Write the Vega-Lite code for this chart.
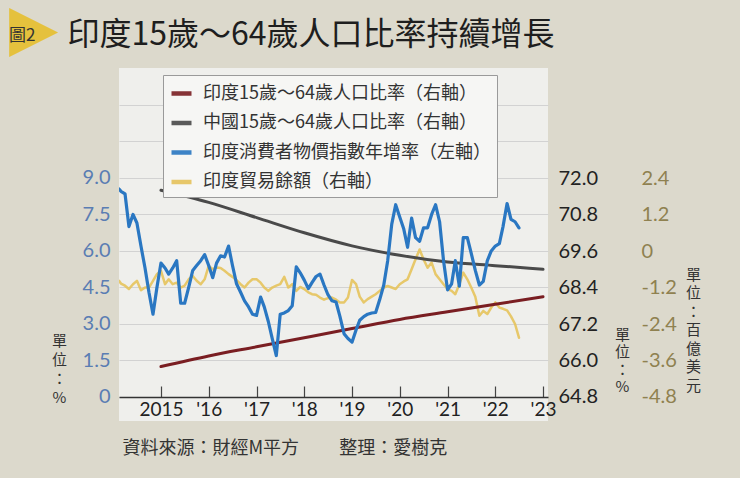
{
  "$schema": "https://vega.github.io/schema/vega-lite/v6.json",
  "width": 429,
  "height": 353,
  "autosize": {"type": "none"},
  "padding": {"left": 119, "top": 68, "right": 192, "bottom": 57},
  "background": "#dcd9cc",
  "title": {
    "text": "▶",
    "subtitle": "\u2002圖2",
    "anchor": "start",
    "frame": "group",
    "dx": -110,
    "offset": -44,
    "font": "DejaVu Sans",
    "fontSize": 64,
    "fontWeight": "normal",
    "color": "#e5c13d",
    "subtitleFont": "Noto Sans CJK TC",
    "subtitleFontSize": 17,
    "subtitleColor": "#333333",
    "subtitlePadding": -34
  },
  "datasets": {
    "cpi": [
      {"date": "2014-02-14", "value": 8.55}, {"date": "2014-03-01", "value": 8.45}, {"date": "2014-04-01", "value": 8.35},
      {"date": "2014-05-01", "value": 7.0}, {"date": "2014-06-01", "value": 7.5}, {"date": "2014-07-01", "value": 7.15},
      {"date": "2014-08-01", "value": 6.2}, {"date": "2014-09-01", "value": 5.3}, {"date": "2014-10-01", "value": 4.3},
      {"date": "2014-11-01", "value": 3.4}, {"date": "2014-12-01", "value": 4.5}, {"date": "2015-01-01", "value": 5.5},
      {"date": "2015-02-01", "value": 5.3}, {"date": "2015-03-01", "value": 5.05}, {"date": "2015-04-01", "value": 5.3},
      {"date": "2015-05-01", "value": 5.6}, {"date": "2015-06-01", "value": 3.85}, {"date": "2015-07-01", "value": 3.85},
      {"date": "2015-08-01", "value": 4.5}, {"date": "2015-09-01", "value": 5.2}, {"date": "2015-10-01", "value": 5.4},
      {"date": "2015-11-01", "value": 5.6}, {"date": "2015-12-01", "value": 5.85}, {"date": "2016-01-01", "value": 5.4},
      {"date": "2016-02-01", "value": 4.9}, {"date": "2016-03-01", "value": 5.5}, {"date": "2016-04-01", "value": 5.8},
      {"date": "2016-05-01", "value": 5.75}, {"date": "2016-06-01", "value": 6.2}, {"date": "2016-07-01", "value": 5.4},
      {"date": "2016-08-01", "value": 4.65}, {"date": "2016-09-01", "value": 4.3}, {"date": "2016-10-01", "value": 3.95},
      {"date": "2016-11-01", "value": 3.7}, {"date": "2016-12-01", "value": 3.4}, {"date": "2017-01-01", "value": 3.35},
      {"date": "2017-02-01", "value": 4.1}, {"date": "2017-03-01", "value": 3.7}, {"date": "2017-04-01", "value": 3.1},
      {"date": "2017-05-01", "value": 2.4}, {"date": "2017-06-01", "value": 1.7}, {"date": "2017-07-01", "value": 3.4},
      {"date": "2017-08-01", "value": 3.45}, {"date": "2017-09-01", "value": 3.55}, {"date": "2017-10-01", "value": 3.75},
      {"date": "2017-11-01", "value": 5.35}, {"date": "2017-12-01", "value": 5.1}, {"date": "2018-01-01", "value": 4.8},
      {"date": "2018-02-01", "value": 4.45}, {"date": "2018-03-01", "value": 4.7}, {"date": "2018-04-01", "value": 4.95},
      {"date": "2018-05-01", "value": 5.05}, {"date": "2018-06-01", "value": 4.6}, {"date": "2018-07-01", "value": 4.2},
      {"date": "2018-08-01", "value": 3.95}, {"date": "2018-09-01", "value": 3.9}, {"date": "2018-10-01", "value": 3.3},
      {"date": "2018-11-01", "value": 2.6}, {"date": "2018-12-01", "value": 2.4}, {"date": "2019-01-01", "value": 2.25},
      {"date": "2019-02-01", "value": 2.75}, {"date": "2019-03-01", "value": 3.15}, {"date": "2019-04-01", "value": 3.3},
      {"date": "2019-05-01", "value": 3.4}, {"date": "2019-06-01", "value": 3.45}, {"date": "2019-07-01", "value": 3.47},
      {"date": "2019-08-01", "value": 4.0}, {"date": "2019-09-01", "value": 4.6}, {"date": "2019-10-01", "value": 5.6},
      {"date": "2019-11-01", "value": 7.1}, {"date": "2019-12-01", "value": 7.9}, {"date": "2020-01-01", "value": 7.4},
      {"date": "2020-02-01", "value": 6.9}, {"date": "2020-03-01", "value": 6.15}, {"date": "2020-04-01", "value": 7.35},
      {"date": "2020-05-01", "value": 6.55}, {"date": "2020-06-01", "value": 6.4}, {"date": "2020-07-01", "value": 6.95},
      {"date": "2020-08-01", "value": 6.95}, {"date": "2020-09-01", "value": 7.5}, {"date": "2020-10-01", "value": 7.9},
      {"date": "2020-11-01", "value": 7.2}, {"date": "2020-12-01", "value": 5.6}, {"date": "2021-01-01", "value": 4.4},
      {"date": "2021-02-01", "value": 4.65}, {"date": "2021-03-01", "value": 5.6}, {"date": "2021-04-01", "value": 4.55},
      {"date": "2021-05-01", "value": 6.55}, {"date": "2021-06-01", "value": 6.55}, {"date": "2021-07-01", "value": 5.9},
      {"date": "2021-08-01", "value": 5.2}, {"date": "2021-09-01", "value": 4.6}, {"date": "2021-10-01", "value": 4.75},
      {"date": "2021-11-01", "value": 5.6}, {"date": "2021-12-01", "value": 6.0}, {"date": "2022-01-01", "value": 6.2},
      {"date": "2022-02-01", "value": 6.3}, {"date": "2022-03-01", "value": 7.0}, {"date": "2022-04-01", "value": 7.95},
      {"date": "2022-05-01", "value": 7.3}, {"date": "2022-06-01", "value": 7.2}, {"date": "2022-07-01", "value": 6.95}
    ],
    "trade": [
      {"date": "2014-02-14", "value": -0.98}, {"date": "2014-03-01", "value": -1.07}, {"date": "2014-04-01", "value": -1.14},
      {"date": "2014-05-01", "value": -1.25}, {"date": "2014-06-01", "value": -1.09}, {"date": "2014-07-01", "value": -0.98},
      {"date": "2014-08-01", "value": -1.29}, {"date": "2014-09-01", "value": -1.2}, {"date": "2014-10-01", "value": -1.2},
      {"date": "2014-11-01", "value": -0.98}, {"date": "2014-12-01", "value": -0.76}, {"date": "2015-01-01", "value": -0.65},
      {"date": "2015-02-01", "value": -1.09}, {"date": "2015-03-01", "value": -0.93}, {"date": "2015-04-01", "value": -1.09},
      {"date": "2015-05-01", "value": -1.04}, {"date": "2015-06-01", "value": -1.2}, {"date": "2015-07-01", "value": -1.14},
      {"date": "2015-08-01", "value": -0.93}, {"date": "2015-09-01", "value": -0.82}, {"date": "2015-10-01", "value": -0.98},
      {"date": "2015-11-01", "value": -1.09}, {"date": "2015-12-01", "value": -0.93}, {"date": "2016-01-01", "value": -0.49},
      {"date": "2016-02-01", "value": -0.6}, {"date": "2016-03-01", "value": -0.54}, {"date": "2016-04-01", "value": -0.56},
      {"date": "2016-05-01", "value": -0.65}, {"date": "2016-06-01", "value": -0.76}, {"date": "2016-07-01", "value": -0.85},
      {"date": "2016-08-01", "value": -0.96}, {"date": "2016-09-01", "value": -1.09}, {"date": "2016-10-01", "value": -1.2},
      {"date": "2016-11-01", "value": -1.04}, {"date": "2016-12-01", "value": -0.93}, {"date": "2017-01-01", "value": -0.93},
      {"date": "2017-02-01", "value": -1.04}, {"date": "2017-03-01", "value": -1.2}, {"date": "2017-04-01", "value": -1.31},
      {"date": "2017-05-01", "value": -1.2}, {"date": "2017-06-01", "value": -1.14}, {"date": "2017-07-01", "value": -1.09},
      {"date": "2017-08-01", "value": -0.85}, {"date": "2017-09-01", "value": -1.2}, {"date": "2017-10-01", "value": -1.09},
      {"date": "2017-11-01", "value": -1.31}, {"date": "2017-12-01", "value": -1.18}, {"date": "2018-01-01", "value": -1.25},
      {"date": "2018-02-01", "value": -1.36}, {"date": "2018-03-01", "value": -1.42}, {"date": "2018-04-01", "value": -1.44},
      {"date": "2018-05-01", "value": -1.53}, {"date": "2018-06-01", "value": -1.6}, {"date": "2018-07-01", "value": -1.55},
      {"date": "2018-08-01", "value": -1.53}, {"date": "2018-09-01", "value": -1.6}, {"date": "2018-10-01", "value": -1.69},
      {"date": "2018-11-01", "value": -1.69}, {"date": "2018-12-01", "value": -1.53}, {"date": "2019-01-01", "value": -0.95},
      {"date": "2019-02-01", "value": -1.09}, {"date": "2019-03-01", "value": -1.5}, {"date": "2019-04-01", "value": -1.69},
      {"date": "2019-05-01", "value": -1.58}, {"date": "2019-06-01", "value": -1.5}, {"date": "2019-07-01", "value": -1.42},
      {"date": "2019-08-01", "value": -1.31}, {"date": "2019-09-01", "value": -1.2}, {"date": "2019-10-01", "value": -1.15},
      {"date": "2019-11-01", "value": -1.2}, {"date": "2019-12-01", "value": -1.25}, {"date": "2020-01-01", "value": -1.09},
      {"date": "2020-02-01", "value": -1.0}, {"date": "2020-03-01", "value": -0.93}, {"date": "2020-04-01", "value": -0.6},
      {"date": "2020-05-01", "value": -0.27}, {"date": "2020-06-01", "value": 0.05}, {"date": "2020-07-01", "value": -0.27},
      {"date": "2020-08-01", "value": -0.55}, {"date": "2020-09-01", "value": -0.38}, {"date": "2020-10-01", "value": -0.76},
      {"date": "2020-11-01", "value": -0.93}, {"date": "2020-12-01", "value": -1.09}, {"date": "2021-01-01", "value": -1.25},
      {"date": "2021-02-01", "value": -1.31}, {"date": "2021-03-01", "value": -1.42}, {"date": "2021-04-01", "value": -1.09},
      {"date": "2021-05-01", "value": -0.71}, {"date": "2021-06-01", "value": -0.93}, {"date": "2021-07-01", "value": -1.2},
      {"date": "2021-08-01", "value": -1.5}, {"date": "2021-09-01", "value": -2.13}, {"date": "2021-10-01", "value": -1.97},
      {"date": "2021-11-01", "value": -2.07}, {"date": "2021-12-01", "value": -1.86}, {"date": "2022-01-01", "value": -1.69},
      {"date": "2022-02-01", "value": -1.86}, {"date": "2022-03-01", "value": -1.9}, {"date": "2022-04-01", "value": -1.95},
      {"date": "2022-05-01", "value": -2.15}, {"date": "2022-06-01", "value": -2.4}, {"date": "2022-07-01", "value": -2.85}
    ],
    "pop": [
      {"date": "2015-01-01", "value": 65.8, "series": "印度15歲～64歲人口比率（右軸）"},
      {"date": "2016-01-01", "value": 66.15, "series": "印度15歲～64歲人口比率（右軸）"},
      {"date": "2017-01-01", "value": 66.45, "series": "印度15歲～64歲人口比率（右軸）"},
      {"date": "2018-01-01", "value": 66.75, "series": "印度15歲～64歲人口比率（右軸）"},
      {"date": "2019-01-01", "value": 67.05, "series": "印度15歲～64歲人口比率（右軸）"},
      {"date": "2020-01-01", "value": 67.35, "series": "印度15歲～64歲人口比率（右軸）"},
      {"date": "2021-01-01", "value": 67.6, "series": "印度15歲～64歲人口比率（右軸）"},
      {"date": "2022-01-01", "value": 67.85, "series": "印度15歲～64歲人口比率（右軸）"},
      {"date": "2023-01-01", "value": 68.1, "series": "印度15歲～64歲人口比率（右軸）"},
      {"date": "2015-01-01", "value": 71.6, "series": "中國15歲～64歲人口比率（右軸）"},
      {"date": "2016-01-01", "value": 71.2, "series": "中國15歲～64歲人口比率（右軸）"},
      {"date": "2017-01-01", "value": 70.7, "series": "中國15歲～64歲人口比率（右軸）"},
      {"date": "2018-01-01", "value": 70.2, "series": "中國15歲～64歲人口比率（右軸）"},
      {"date": "2019-01-01", "value": 69.77, "series": "中國15歲～64歲人口比率（右軸）"},
      {"date": "2020-01-01", "value": 69.46, "series": "中國15歲～64歲人口比率（右軸）"},
      {"date": "2021-01-01", "value": 69.24, "series": "中國15歲～64歲人口比率（右軸）"},
      {"date": "2022-01-01", "value": 69.12, "series": "中國15歲～64歲人口比率（右軸）"},
      {"date": "2023-01-01", "value": 69.0, "series": "中國15歲～64歲人口比率（右軸）"}
    ]
  },
  "layer": [
    {
      "data": {"name": "trade"},
      "mark": {"type": "line", "strokeWidth": 2.5, "opacity": 0.9, "clip": true},
      "encoding": {
        "x": {
          "field": "date", "type": "temporal",
          "scale": {"domain": [{"year": 2014, "month": 2, "date": 14}, {"year": 2023, "month": 2, "date": 8}]},
          "axis": {
            "orient": "top", "labels": false, "ticks": false, "domain": false, "grid": false,
            "title": "印度15歲～64歲人口比率持續增長",
            "titleX": -52, "titleY": -34, "titleAlign": "left", "titleBaseline": "middle", "titleAngle": 0,
            "titleFont": "Noto Sans CJK TC", "titleFontSize": 32, "titleFontWeight": "normal", "titleColor": "#1e1e1e"
          }
        },
        "y": {
          "field": "value", "type": "quantitative",
          "scale": {"domain": [-5.59, 6.02], "nice": false, "zero": false},
          "axis": {
            "orient": "right", "offset": 85, "values": [-4.8, -3.6, -2.4, -1.2, 0, 1.2, 2.4],
            "labelExpr": "datum.value == 0 ? '0' : (datum.value < 0 ? '-' : '') + format(abs(datum.value), '.1f')",
            "grid": false, "domain": false, "ticks": false, "labelPadding": 8, "labelAlign": "left",
            "labelFont": "Lato", "labelFontSize": 20, "labelColor": "#8f8150",
            "title": ["單", "位", "：", "百", "億", "美", "元"],
            "titleAngle": 0, "titleX": 60, "titleY": 199, "titleAlign": "center", "titleBaseline": "top",
            "titleFont": "Noto Sans CJK TC", "titleFontSize": 15, "titleFontWeight": "normal", "titleLineHeight": 18.5, "titleColor": "#333333"
          }
        },
        "color": {
          "datum": "印度貿易餘額（右軸）", "type": "nominal",
          "scale": {
            "domain": ["印度15歲～64歲人口比率（右軸）", "中國15歲～64歲人口比率（右軸）", "印度消費者物價指數年增率（左軸）", "印度貿易餘額（右軸）"],
            "range": ["#7a1e22", "#4a4a4a", "#2a77c2", "#e6c35c"]
          }
        }
      }
    },
    {
      "data": {"name": "pop"},
      "mark": {"type": "line", "strokeWidth": 3, "interpolate": "monotone"},
      "encoding": {
        "x": {
          "field": "date", "type": "temporal",
          "scale": {"domain": [{"year": 2014, "month": 2, "date": 14}, {"year": 2023, "month": 2, "date": 8}]},
          "axis": null
        },
        "y": {
          "field": "value", "type": "quantitative",
          "scale": {"domain": [64.01, 75.62], "nice": false, "zero": false},
          "axis": {
            "orient": "right", "values": [64.8, 66.0, 67.2, 68.4, 69.6, 70.8, 72.0], "format": ".1f",
            "grid": false, "domain": false, "ticks": false, "labelPadding": 10, "labelAlign": "left",
            "labelFont": "Lato", "labelFontSize": 20, "labelColor": "#222222",
            "title": ["單", "位", "：", "%"],
            "titleAngle": 0, "titleX": 74, "titleY": 259, "titleAlign": "center", "titleBaseline": "top",
            "titleFont": "Noto Sans CJK TC", "titleFontSize": 15, "titleFontWeight": "normal", "titleLineHeight": 17.5, "titleColor": "#333333"
          }
        },
        "color": {
          "field": "series", "type": "nominal",
          "scale": {
            "domain": ["印度15歲～64歲人口比率（右軸）", "中國15歲～64歲人口比率（右軸）", "印度消費者物價指數年增率（左軸）", "印度貿易餘額（右軸）"],
            "range": ["#7a1e22", "#4a4a4a", "#2a77c2", "#e6c35c"]
          },
          "legend": {
            "orient": "none", "legendX": 44, "legendY": 7, "title": null,
            "symbolType": "stroke", "symbolStrokeWidth": 4.5, "symbolSize": 400,
            "labelFont": "Noto Sans CJK TC", "labelFontSize": 18, "labelColor": "#333333", "labelLimit": 0, "labelOffset": 9,
            "rowPadding": 7.5, "padding": 6, "strokeColor": "#9a9a9a", "fillColor": "#f6f6f4"
          }
        }
      }
    },
    {
      "data": {"name": "cpi"},
      "mark": {"type": "line", "strokeWidth": 3.2, "clip": true},
      "encoding": {
        "x": {
          "field": "date", "type": "temporal",
          "scale": {"domain": [{"year": 2014, "month": 2, "date": 14}, {"year": 2023, "month": 2, "date": 8}]},
          "axis": {
            "orient": "bottom", "offset": -24,
            "values": [{"year": 2015}, {"year": 2016}, {"year": 2017}, {"year": 2018}, {"year": 2019}, {"year": 2020}, {"year": 2021}, {"year": 2022}, {"year": 2023}],
            "labelExpr": "year(datum.value) == 2015 ? '2015' : \"'\" + timeFormat(datum.value, '%y')",
            "grid": false, "domain": true, "domainColor": "#333333", "domainWidth": 1.5,
            "ticks": true, "tickSize": -11, "tickColor": "#444444", "tickWidth": 1.2,
            "labelPadding": 14, "labelFont": "Lato", "labelFontSize": 19, "labelColor": "#222222", "labelFlush": false,
            "title": "資料來源：財經M平方　　  整理：愛樹克",
            "titleX": 3, "titleY": 51, "titleAlign": "left", "titleBaseline": "middle", "titleAngle": 0,
            "titleFont": "Noto Sans CJK TC", "titleFontSize": 18, "titleFontWeight": "normal", "titleColor": "#333333"
          }
        },
        "y": {
          "field": "value", "type": "quantitative",
          "scale": {"domain": [-0.99, 13.52], "nice": false, "zero": false},
          "axis": {
            "orient": "left", "values": [0, 1.5, 3, 4.5, 6, 7.5, 9, 10.5, 12],
            "labelExpr": "datum.value > 9.01 ? '' : datum.value == 0 ? '0' : format(datum.value, '.1f')",
            "grid": true, "gridColor": "#d2d2d2", "gridWidth": 1, "domain": false, "ticks": false, "labelPadding": 9,
            "labelFont": "Lato", "labelFontSize": 20, "labelColor": "#5a7db3",
            "title": ["單", "位", "：", "%"],
            "titleAngle": 0, "titleX": -60, "titleY": 265, "titleAlign": "center", "titleBaseline": "top",
            "titleFont": "Noto Sans CJK TC", "titleFontSize": 15, "titleFontWeight": "normal", "titleLineHeight": 19, "titleColor": "#333333"
          }
        },
        "color": {
          "datum": "印度消費者物價指數年增率（左軸）", "type": "nominal",
          "scale": {
            "domain": ["印度15歲～64歲人口比率（右軸）", "中國15歲～64歲人口比率（右軸）", "印度消費者物價指數年增率（左軸）", "印度貿易餘額（右軸）"],
            "range": ["#7a1e22", "#4a4a4a", "#2a77c2", "#e6c35c"]
          }
        }
      }
    }
  ],
  "resolve": {"scale": {"y": "independent"}},
  "config": {
    "view": {"fill": "#efefec", "stroke": null},
    "font": "Noto Sans CJK TC",
    "line": {"strokeJoin": "round", "strokeCap": "round"}
  }
}
